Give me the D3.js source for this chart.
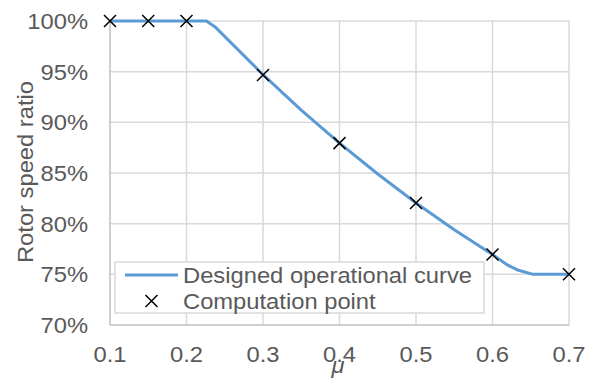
<!DOCTYPE html>
<html>
<head>
<meta charset="utf-8">
<script src="https://cdn.jsdelivr.net/npm/d3@7"></script>
<style>
  body { margin: 0; background: #fff; }
  text { font-family: "Liberation Sans", Arial, sans-serif; fill: #595959; font-size: 22px; }
</style>
</head>
<body>
<div id="chart"></div>
<script>
// Designed operational curve (mu, rotor speed ratio)
const curveMu    = [0.1, 0.2, 0.226, 0.237, 0.3, 0.35, 0.4, 0.45, 0.5, 0.55, 0.6, 0.62, 0.634, 0.653, 0.7];
const curveRatio = [1.0, 1.0, 1.0, 0.9944, 0.947, 0.912, 0.8795, 0.849, 0.8204, 0.794, 0.7695, 0.759, 0.754, 0.75, 0.75];

// Computation points
const pointMu    = [0.1, 0.15, 0.2, 0.3, 0.4, 0.5, 0.6, 0.7];
const pointRatio = [1.0, 1.0, 1.0, 0.9468, 0.8795, 0.8204, 0.7695, 0.75];

const xTicks = [0.1, 0.2, 0.3, 0.4, 0.5, 0.6, 0.7];
const yTicks = [0.70, 0.75, 0.80, 0.85, 0.90, 0.95, 1.00];

const width = 590, height = 379;
const svg = d3.select('#chart').append('svg')
  .attr('width', width)
  .attr('height', height);

const x = d3.scaleLinear().domain([0.1, 0.7]).range([110, 569]);
const y = d3.scaleLinear().domain([0.70, 1.00]).range([325, 21]);

// text is a bit wider than plain Liberation Sans in the original
const sx = 1.08;
const label = (parent, tx, ty, str, anchor, rot) => {
  const g = parent.append('g')
    .attr('transform', `translate(${tx},${ty})` + (rot ? ` rotate(${rot})` : '') + ` scale(${sx},1)`);
  return g.append('text').attr('text-anchor', anchor || 'start').text(str);
};

// gridlines
svg.append('g').selectAll('line')
  .data(yTicks.slice(1))
  .enter().append('line')
  .attr('x1', x(0.1)).attr('x2', x(0.7))
  .attr('y1', d => y(d)).attr('y2', d => y(d))
  .attr('stroke', '#d9d9d9').attr('stroke-width', 1.5);

svg.append('g').selectAll('line')
  .data(xTicks.slice(1))
  .enter().append('line')
  .attr('y1', y(0.70)).attr('y2', y(1.0))
  .attr('x1', d => x(d)).attr('x2', d => x(d))
  .attr('stroke', '#d9d9d9').attr('stroke-width', 1.5);

// axis lines
svg.append('line')
  .attr('x1', x(0.1)).attr('x2', x(0.1))
  .attr('y1', y(0.70)).attr('y2', y(1.0))
  .attr('stroke', '#bfbfbf').attr('stroke-width', 1.5);
svg.append('line')
  .attr('x1', x(0.1)).attr('x2', x(0.7))
  .attr('y1', y(0.70)).attr('y2', y(0.70))
  .attr('stroke', '#bfbfbf').attr('stroke-width', 1.5);

// tick labels
yTicks.forEach(d => {
  label(svg, 88, y(d), d3.format('.0%')(d), 'end').attr('dy', '0.36em');
});
xTicks.forEach(d => {
  label(svg, x(d), 362, d3.format('.1f')(d), 'middle');
});

// axis titles
label(svg, 33, 172, 'Rotor speed ratio', 'middle', -90);
label(svg, 338, 373, 'μ', 'middle').style('font-style', 'italic');

// curve
const curveData = curveMu.map((m, i) => ({ mu: m, r: curveRatio[i] }));
const line = d3.line().x(d => x(d.mu)).y(d => y(d.r));
svg.append('path')
  .datum(curveData)
  .attr('d', line)
  .attr('fill', 'none')
  .attr('stroke', '#5b9bd5')
  .attr('stroke-width', 3)
  .attr('stroke-linejoin', 'round');

// crosses
const cross = (g, cx, cy, s) => {
  g.append('path')
    .attr('d', `M${cx - s},${cy - s}L${cx + s},${cy + s}M${cx - s},${cy + s}L${cx + s},${cy - s}`)
    .attr('stroke', '#000')
    .attr('stroke-width', 1.5)
    .attr('fill', 'none');
};
const pts = svg.append('g');
pointMu.forEach((m, i) => cross(pts, x(m), y(pointRatio[i]), 6));

// legend
const lg = svg.append('g');
lg.append('rect')
  .attr('x', 115).attr('y', 262)
  .attr('width', 369).attr('height', 51)
  .attr('fill', '#fff')
  .attr('stroke', '#d9d9d9').attr('stroke-width', 1.5);
lg.append('line')
  .attr('x1', 125).attr('x2', 178)
  .attr('y1', 275).attr('y2', 275)
  .attr('stroke', '#5b9bd5').attr('stroke-width', 3);
label(lg, 183, 283, 'Designed operational curve');
cross(lg, 151.5, 301, 6);
label(lg, 183, 309, 'Computation point');
</script>
</body>
</html>
